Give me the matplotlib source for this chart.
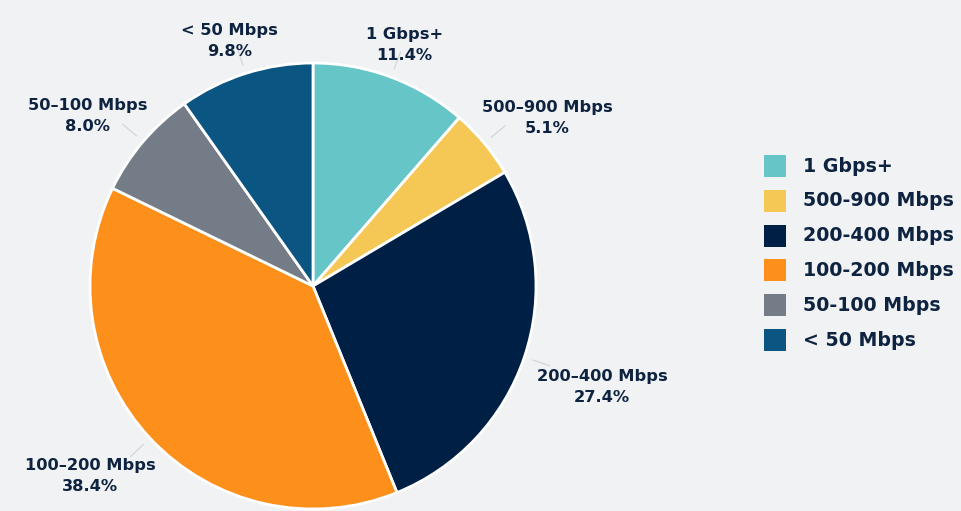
import matplotlib.pyplot as plt
from matplotlib.patches import Rectangle
import numpy as np

# data
pie_labels = ["1 Gbps+", "500–900 Mbps", "200–400 Mbps", "100–200 Mbps", "50–100 Mbps", "< 50 Mbps"]
legend_labels = ["1 Gbps+", "500-900 Mbps", "200-400 Mbps", "100-200 Mbps", "50-100 Mbps", "< 50 Mbps"]
shares = [11.4, 5.1, 27.4, 38.4, 8.0, 9.8]
colors = ["#66c5c7", "#f5c855", "#001f45", "#fd8f1b", "#737c87", "#0b5582"]

bg = "#f1f2f4"
text_col = "#0d2340"

fig = plt.figure(figsize=(9.61, 5.11), dpi=100, facecolor=bg)
ax = fig.add_axes([0, 0, 1, 1])

cx, cy, R = 313, 225, 223
wedges, _ = ax.pie(shares, colors=colors, startangle=90, counterclock=False,
                   center=(cx, cy), radius=R, frame=True,
                   wedgeprops=dict(edgecolor="white", linewidth=2))
ax.set_xlim(0, 961)
ax.set_ylim(0, 511)
ax.set_aspect("equal")
ax.axis("off")

renderer = fig.canvas.get_renderer()
for w, name, val in zip(wedges, pie_labels, shares):
    ang = np.deg2rad((w.theta1 + w.theta2) / 2)
    c, s = np.cos(ang), np.sin(ang)
    # leader line
    ax.plot([cx + 1.04 * R * c, cx + 1.12 * R * c], [cy + 1.04 * R * s, cy + 1.12 * R * s],
            color="#cfd3d8", lw=0.8)
    t = ax.text(0, 0, "%s\n%.1f%%" % (name, val), ha="center", va="center",
                fontsize=11.7, fontweight="bold", color=text_col, linespacing=1.5)
    bb = t.get_window_extent(renderer)
    hw, hh = bb.width / 2, bb.height / 2
    # push the text box outward from the end of the leader line
    t.set_position((cx + c * (196 + 1.67 * hw), cy - 6 + s * 245 + np.sign(s) * 0.95 * hh))

# legend
for i, (lab, col) in enumerate(zip(legend_labels, colors)):
    y = 511 - (166 + i * 34.8)
    ax.add_patch(Rectangle((764, y - 11), 22, 22, facecolor=col, edgecolor="none"))
    ax.text(803, y, lab, ha="left", va="center", fontsize=13.7, fontweight="bold", color=text_col)

fig.savefig("out.png", dpi=100, facecolor=bg)
